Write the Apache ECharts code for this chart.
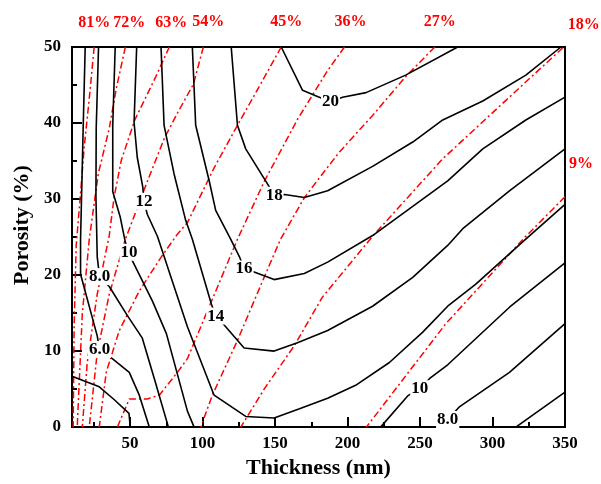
<!DOCTYPE html>
<html>
<head>
<meta charset="utf-8">
<script src="https://cdn.jsdelivr.net/npm/echarts@6/dist/echarts.min.js"></script>
<style>html,body{margin:0;padding:0;background:#fff}#chart{width:601px;height:484px}</style>
</head>
<body>
<div id="chart"></div>
<script>
// Axis ticks
const thicknessLabels = [50, 100, 150, 200, 250, 300, 350];
const thicknessMajorTicks = [50, 100, 150, 200, 250, 300];
const thicknessMinorTicks = [25, 75, 125, 175, 225, 275, 325];

// Black contour lines [thickness nm, porosity %, optional label]
const c4_left = [[10,6.7],[28.8,5.3],[39.2,3.6],[49.3,1.8],[50.2,0]];
const c6_left = [[19.1,50],[17.7,39.3],[15.9,24.7],[15.9,20.1],[27.4,12.0],[29.0,10.2,'6.0'],[37.8,9.0],[49.5,7.2],[56.4,4.2],[63.3,0]];
const c8_left = [[28.3,50],[26.7,39.3],[26.5,30.3],[27.4,22.4],[29.0,19.8,'8.0'],[35.7,18.5],[48.1,14.7],[58.5,11.7],[67.5,5.9],[76.5,0]];
const c10_left = [[39.8,50],[38.1,39.7],[38.1,31.0],[43.3,27.6],[46.8,24.3],[49.3,23.0,'10'],[51.6,21.9],[65.4,16.6],[75.1,12.3],[89.6,2.1],[94.2,0]];
const c12 = [[54.6,50],[52.8,40.1],[55.0,35.5],[58.8,31.6],[59.7,29.7,'12'],[61.9,28.0],[68.9,25.1],[89.6,13.2],[108.0,4.2],[129.8,1.4],[149.4,1.2],[166.9,2.4],[186.3,3.8],[205.6,5.5],[228.9,8.5],[251.9,12.5],[269.1,15.9],[288.5,18.8],[321.0,24.4],[350,29.3]];
const c14 = [[71.4,50],[73.5,39.7],[80.4,33.3],[88.4,27.2],[93.0,24.7],[106.1,16.2],[109.1,14.6,'14'],[115.1,13.4],[128.7,10.4],[149.4,10.0],[165.5,11.1],[186.3,12.7],[217.3,15.9],[245.0,19.7],[269.1,23.9],[279.5,26.1],[311.9,31.1],[350,36.6]];
const c16 = [[93.0,50],[95.3,39.7],[104.6,32.4],[109.1,28.5],[119.5,24.7],[125.5,22.4],[128.7,20.8,'16'],[135.6,20.4],[149.4,19.4],[170.2,20.2],[186.3,21.7],[217.3,25.2],[269.1,32.4],[293.3,36.6],[323.0,40.4],[350,43.4]];
const c18 = [[119.8,50],[124.1,39.7],[129.8,36.6],[144.8,32.0],[149.4,30.5,'18'],[156.6,30.6],[170.2,30.2],[186.3,31.1],[217.3,34.3],[245.0,37.5],[265.7,40.4],[293.3,42.9],[323.0,46.3],[347.2,50]];
const c20 = [[154.3,50],[169.0,44.3],[178.0,43.6],[188.3,42.8,'20'],[196.6,43.4],[212.8,44.0],[240.1,46.3],[276.0,50]];
const c10_right = [[222.8,0],[241.5,4.1],[249.8,5.05,'10'],[256.7,6.4],[269.1,8.2],[311.9,15.8],[350,21.6]];
const c8_right = [[269.1,1.0,'8.0'],[277.4,2.7],[311.7,7.2],[350,13.6]];
const c6_right = [[316.1,0],[350,4.6]];

// Red dash-dot lines
const r81 = [[25.3,50,'81%'],[21.9,43.2],[18.4,36.8],[15.7,30.3],[12.9,23.9],[11.5,13.6],[10.8,0]];
const r72 = [[46.8,50,'72%'],[40.5,44.5],[35.7,39.3],[28.1,33.3],[21.9,24.7],[17.1,14.9],[13.6,0]];
const r63 = [[77.1,50,'63%'],[67.8,46.1],[53.3,40.4],[44.0,35.1],[39.0,30.2],[35.7,25.2],[27.4,17.5],[20.5,8.5],[17.1,0]];
const r54 = [[100.6,50,'54%'],[93.7,45.1],[82.7,41.3],[73.7,38.0],[61.9,32.3],[46.8,24.7],[35.7,17.5],[27.4,9.8],[21.9,0]];
const r45 = [[154.3,50,'45%'],[135.6,43.6],[124.1,39.7],[108.0,34.1],[89.6,26.9],[82.0,25.2],[70.9,22.2],[56.4,17.9],[42.6,12.7],[33.6,7.2],[28.8,0]];
const r36 = [[197.9,50,'36%'],[186.3,46.9],[165.6,40.5],[142.8,32.4],[124.1,24.7],[89.6,9.0],[82.7,7.2],[70.2,4.2],[61.9,3.7],[49.5,3.7],[41.3,0]];
const r27 = [[260.2,50,'27%'],[240.1,46.1],[217.3,41.0],[194.5,36.2],[182.7,33.3],[170.3,30.2],[153.8,24.7],[142.5,19.7],[124.1,11.4],[106.8,4.2],[98.8,0]];
const r18 = [[348.5,49.9,'18%'],[265.7,35.3],[217.3,25.1],[182.7,17.1],[163.3,10.7],[142.5,5.0],[126.4,0]];
const r9 = [[350,30.3,'9%'],[321.0,24.7],[267.8,13.6],[213.0,0]];

const blackLines = [c4_left, c6_left, c8_left, c10_left, c12, c14, c16, c18, c20, c10_right, c8_right, c6_right];
const redLines = [r81, r72, r63, r54, r45, r36, r27, r18, r9];

const FONT = 'Liberation Serif';
const redOffsets = {'81%':[0,-24],'72%':[4,-24],'63%':[2,-24],'54%':[5,-25],'45%':[5,-25],'36%':[6,-25],'27%':[5,-25],'18%':[21,-23],'9%':[16,-33]};

function toData(pts, red) {
  return pts.map(p => {
    if (p.length > 2) {
      const lab = red
        ? {show:true, formatter:p[2], position:'inside', offset:redOffsets[p[2]], color:'#ff0000', fontFamily:FONT, fontWeight:'bold', fontSize:16}
        : {show:true, formatter:p[2], position:'inside', color:'#000', fontFamily:FONT, fontWeight:'bold', fontSize:17, backgroundColor:'#fff', padding:[0,1]};
      return {value:[p[0], p[1]], label: lab};
    }
    return [p[0], p[1]];
  });
}

const series = [];
redLines.forEach(pts => series.push({
  type:'line', data: toData(pts, true), symbol:'circle', symbolSize:0, showSymbol:true,
  lineStyle:{color:'#ff0000', width:1.5, type:[7,3,2,3]}, clip:false, silent:true, z:2
}));
blackLines.forEach(pts => series.push({
  type:'line', data: toData(pts, false), symbol:'circle', symbolSize:0, showSymbol:true,
  lineStyle:{color:'#000', width:1.6}, clip:false, silent:true, z:3
}));

const labelStyle = {color:'#000', fontFamily:FONT, fontWeight:'bold', fontSize:17};
const chart = echarts.init(document.getElementById('chart'), null, {renderer:'canvas'});
chart.setOption({
  animation:false,
  backgroundColor:'#fff',
  grid:{left:72, right:36, top:47, bottom:48, show:true, borderColor:'#000', borderWidth:2, backgroundColor:'transparent'},
  xAxis:[{
    type:'value', min:10, max:350,
    name:'Thickness (nm)', nameLocation:'middle', nameGap:22,
    nameTextStyle:{color:'#000', fontFamily:FONT, fontWeight:'bold', fontSize:22},
    axisLine:{show:true, lineStyle:{color:'#000', width:2}},
    axisTick:{show:true, inside:true, length:10, lineStyle:{color:'#000', width:2}, customValues:thicknessMajorTicks},
    axisLabel:Object.assign({margin:8, customValues:thicknessLabels}, labelStyle),
    splitLine:{show:false}
  },{
    type:'value', min:10, max:350, position:'bottom',
    axisLine:{show:false},
    axisTick:{show:true, inside:true, length:5, lineStyle:{color:'#000', width:2}, customValues:thicknessMinorTicks},
    axisLabel:{show:false},
    splitLine:{show:false}
  }],
  yAxis:{
    type:'value', min:0, max:50, interval:10,
    name:'Porosity (%)', nameLocation:'middle', nameGap:38, nameRotate:90,
    nameTextStyle:{color:'#000', fontFamily:FONT, fontWeight:'bold', fontSize:22, padding:[0,0,0,24]},
    axisLine:{show:true, lineStyle:{color:'#000', width:2}},
    axisTick:{show:true, inside:true, length:10, lineStyle:{color:'#000', width:2}},
    minorTick:{show:true, splitNumber:2, length:5, lineStyle:{color:'#000', width:2}},
    axisLabel:Object.assign({margin:11}, labelStyle),
    splitLine:{show:false}
  },
  series: series
});
</script>
</body>
</html>
